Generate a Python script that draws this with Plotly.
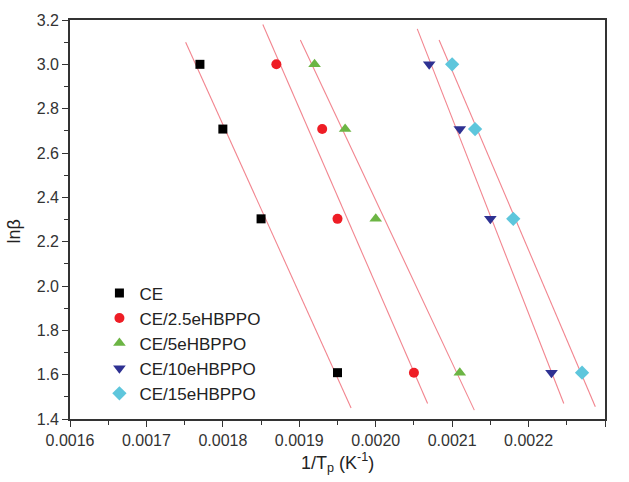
import numpy as np
import plotly.graph_objects as go

# ln(heating rate) for 5, 10, 15, 20 K/min
ln_beta = [3.00, 2.708, 2.303, 1.609]

series_names = ["CE", "CE/2.5eHBPPO", "CE/5eHBPPO", "CE/10eHBPPO", "CE/15eHBPPO"]
inv_tp_ce = [0.00177, 0.00180, 0.00185, 0.00195]
inv_tp_25 = [0.00187, 0.00193, 0.00195, 0.00205]
inv_tp_5 = [0.00192, 0.00196, 0.00200, 0.00211]
inv_tp_10 = [0.00207, 0.00211, 0.00215, 0.00223]
inv_tp_15 = [0.00210, 0.00213, 0.00218, 0.00227]

# vertical extent of each fitted line (ln beta)
fit_top = [3.10, 3.18, 3.11, 3.16, 3.11]
fit_bottom = [1.45, 1.47, 1.44, 1.47, 1.455]

x_ticks = [0.0016, 0.0017, 0.0018, 0.0019, 0.0020, 0.0021, 0.0022, 0.0023]
y_ticks = [1.4, 1.6, 1.8, 2.0, 2.2, 2.4, 2.6, 2.8, 3.0, 3.2]

all_x = [inv_tp_ce, inv_tp_25, inv_tp_5, inv_tp_10, inv_tp_15]
colors = ["#000000", "#EE1D25", "#6CB544", "#2E3192", "#5EC6DC"]
symbols = ["square", "circle", "triangle-up", "triangle-down", "diamond"]
sizes = [9, 10, 11, 11, 11]

FONT = "Liberation Sans, Arial, sans-serif"

fig = go.Figure()

# linear Kissinger fits
for xs, top, bot in zip(all_x, fit_top, fit_bottom):
    slope, icpt = np.polyfit(xs, ln_beta, 1)
    ys = np.array([top, bot])
    fig.add_trace(go.Scatter(
        x=(ys - icpt) / slope, y=ys, mode="lines",
        line=dict(color="#F2858F", width=1.1),
        showlegend=False, hoverinfo="skip"))

for name, xs, c, s, sz in zip(series_names, all_x, colors, symbols, sizes):
    fig.add_trace(go.Scatter(
        x=xs, y=ln_beta, mode="markers", name=name,
        marker=dict(symbol=s, color=c, size=sz, line=dict(width=0))))

axis_common = dict(
    showline=True, linecolor="#333333", linewidth=1.6, mirror=True,
    showgrid=False, zeroline=False,
    ticks="outside", ticklen=6, tickwidth=1.3, tickcolor="#333333",
    tickfont=dict(family=FONT, size=16, color="#333333"),
)

fig.update_xaxes(
    range=[0.0016, 0.0023], tickvals=x_ticks,
    ticktext=[f"{v:.4f}" for v in x_ticks],
    minor=dict(dtick=0.00005, ticks="outside", ticklen=4, tickwidth=1.2, tickcolor="#333333"),
    **axis_common)
fig.update_yaxes(
    range=[1.4, 3.2], tickvals=y_ticks,
    ticktext=[f"{v:.1f}" for v in y_ticks],
    minor=dict(dtick=0.1, ticks="outside", ticklen=4, tickwidth=1.2, tickcolor="#333333"),
    **axis_common)

title_font = dict(family=FONT, size=18, color="#222222")
fig.add_annotation(
    text="1/T<sub>p</sub> (K<sup>-1</sup>)", xref="paper", yref="paper",
    x=0.5, y=-0.11, xanchor="center", yanchor="middle", showarrow=False, font=title_font)
fig.add_annotation(
    text="lnβ", xref="paper", yref="paper", textangle=-90,
    x=-0.104, y=0.471, xanchor="center", yanchor="middle", showarrow=False, font=title_font)

fig.update_layout(
    width=629, height=482,
    margin=dict(l=70, r=24, t=20, b=63),
    plot_bgcolor="white", paper_bgcolor="white",
    legend=dict(
        x=0.055, y=0.36, xanchor="left", yanchor="top",
        bgcolor="rgba(0,0,0,0)", tracegroupgap=0, itemwidth=30,
        font=dict(family=FONT, size=17, color="#222222")),
)

fig.write_html("out.html")
